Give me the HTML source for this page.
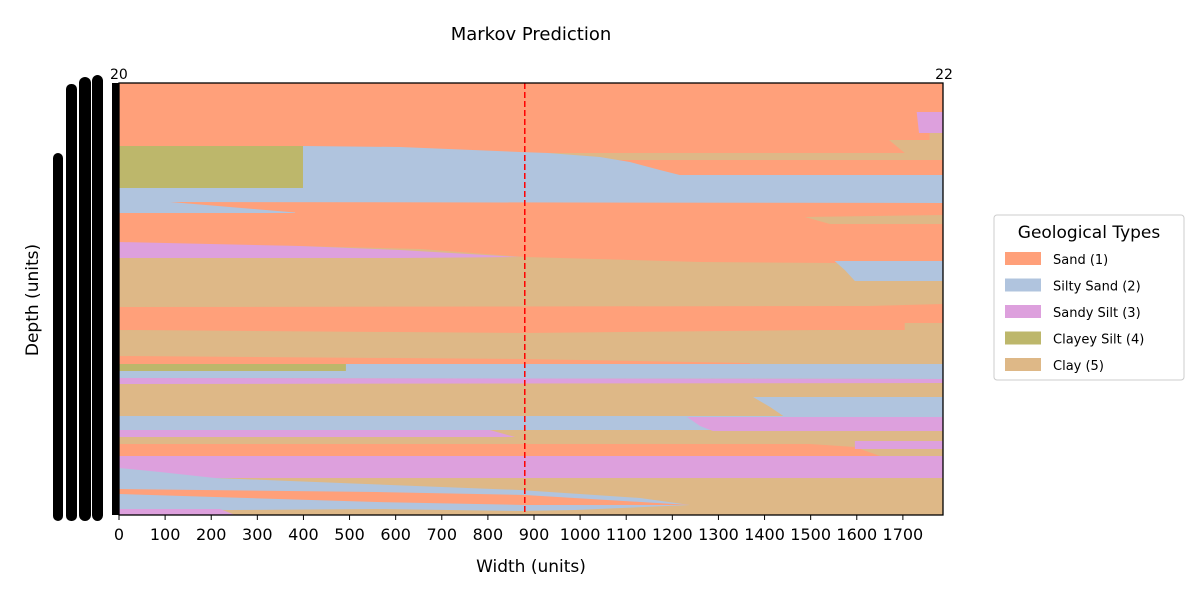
<!DOCTYPE html>
<html><head><meta charset="utf-8"><style>
body{margin:0;background:#fff;font-family:"Liberation Sans",sans-serif}
svg text{font-family:"DejaVu Sans","Liberation Sans",sans-serif}
</style></head><body>
<svg id="chart" width="1200" height="600" xmlns="http://www.w3.org/2000/svg">
<rect width="1200" height="600" fill="#fff"/>
<text x="531" y="40" font-size="18" text-anchor="middle">Markov Prediction</text>
<g id="plot"></g>
<g fill="#000">
<rect x="53" y="153" width="10" height="368" rx="5"/>
<rect x="66" y="84" width="11" height="437" rx="5"/>
<rect x="79" y="77" width="12" height="444" rx="6"/>
<rect x="92" y="75" width="11" height="446" rx="6"/>
<rect x="112" y="83" width="7" height="432"/>
</g>
<text x="110" y="79" font-size="14">20</text>
<text x="944" y="79" font-size="14" text-anchor="middle">22</text>
<text x="531" y="572" font-size="17" text-anchor="middle">Width (units)</text>
<text x="38" y="300" font-size="17" text-anchor="middle" transform="rotate(-90 38 300)">Depth (units)</text>
<g>
<rect x="994" y="215" width="190" height="165" rx="3" fill="#fff" stroke="#ccc"/>
<text x="1089" y="238" font-size="17" text-anchor="middle">Geological Types</text>
<g id="legend-items"></g>
</g>
</svg>
<script>
const NS="http://www.w3.org/2000/svg";
const typeNames=["Sand (1)","Silty Sand (2)","Sandy Silt (3)","Clayey Silt (4)","Clay (5)"];
const typeColors=["#FFA07A","#B0C4DE","#DDA0DD","#BDB76B","#DEB887"];
const xTicks=[0,100,200,300,400,500,600,700,800,900,1000,1100,1200,1300,1400,1500,1600,1700];
const xMax=1787, depthMax=432, predX=880;
// layer types (index into typeNames) and polygons in [width, depth] data units
const layerTypes=[0,0,4,3,1,2,1,4,2,4,0,0,1,3,2,1,2,1,2,0,2,2,1,0,2];
const layerPolys=[
[[0,0],[1787,0],[1787,92],[0,92]],
[[0,115],[1787,115],[1787,180],[1552,180],[1260,179],[880,174],[653,166],[392,163],[0,160]],
[[924,70],[1787,70],[1787,77],[924,77]],
[[0,63],[399,63],[399,105],[0,105]],
[[0,105],[399,105],[399,63],[609,64],[869,69],[930,70],[1043,74],[1108,79],[1173,87],[1216,92],[1787,92],[1787,120],[111,119],[382,129.5],[382,130],[0,130]],
[[0,159],[392,163],[609,167],[869,174],[609,175],[0,175]],
[[1552,178],[1787,178],[1787,198],[1596,198],[1574,187]],
[[1487,134],[1787,132],[1787,141],[1542,141]],
[[1730,29],[1787,29],[1787,50],[1735,50]],
[[1670,57],[1758,57],[1758,50],[1787,50],[1787,70],[1704,70]],
[[0,224],[1628,223],[1704,222],[1787,221],[1787,240],[1704,240],[1704,247],[1520,247],[880,250],[0,247]],
[[0,273],[880,276],[1368,280],[1368,282],[880,283],[0,281]],
[[0,281],[1787,281],[1787,296],[0,295]],
[[0,281],[492,281],[492,288],[0,288]],
[[0,295],[1787,296],[1787,300],[0,301]],
[[0,333],[1787,333],[1787,347],[0,347]],
[[1232,334],[1787,334],[1787,348],[1288,348],[1260,343]],
[[1375,314],[1787,314],[1787,334],[1444,334],[1412,324]],
[[0,347],[804,347],[859,354],[0,354]],
[[0,361],[1498,361],[1596,364],[1650,373],[0,373]],
[[1596,358],[1787,358],[1787,366],[1596,366]],
[[0,373],[1787,373],[1787,395],[0,395]],
[[0,385],[89,389],[208,395],[371,398],[869,407],[1130,415],[1238,422],[989,427],[869,428],[559,426],[241,427],[0,426]],
[[0,406],[559,409],[880,412],[1238,422],[880,422],[559,419],[0,411]],
[[0,426],[219,426],[252,432],[0,432]]
];
const L=119,R=943,T=83,B=515;
const xs=v=>L+(v)*(R-L)/xMax;
const ys=d=>T+d*(B-T)/depthMax;
const plot=document.getElementById('plot');
function mk(tag,attrs,parent){const e=document.createElementNS(NS,tag);for(const k in attrs)e.setAttribute(k,attrs[k]);(parent||plot).appendChild(e);return e;}
let bg=mk('rect',{x:L,y:T,width:R-L,height:B-T,fill:typeColors[4]});


layerPolys.forEach((p,i)=>{
  const e=mk('polygon',{points:p.map(q=>xs(q[0]).toFixed(1)+','+ys(q[1]).toFixed(1)).join(' '),fill:typeColors[layerTypes[i]]});
  
  
});
let pl=mk('line',{x1:xs(predX),x2:xs(predX),y1:T,y2:B,stroke:'#f00','stroke-width':1.5,'stroke-dasharray':'6 3'});


let fr=mk('rect',{x:L,y:T,width:R-L,height:B-T,fill:'none',stroke:'#000','stroke-width':1.3});


xTicks.forEach(t=>{
  const ln=mk('line',{x1:xs(t),x2:xs(t),y1:B,y2:B+5,stroke:'#000'});
  
  
  const tx=mk('text',{x:xs(t),y:B+25,'font-size':16,'text-anchor':'middle'});
  tx.textContent=t;
  
  
});
const lg=document.getElementById('legend-items');
typeNames.forEach((n,i)=>{
  const y=252+i*26.5;
  const r=mk('rect',{x:1005,y:y,width:36,height:13,fill:typeColors[i]},lg);
  
  
  const t=mk('text',{x:1053,y:y+12,'font-size':13},lg);
  t.textContent=n;
  
  
});
</script>
</body></html>
